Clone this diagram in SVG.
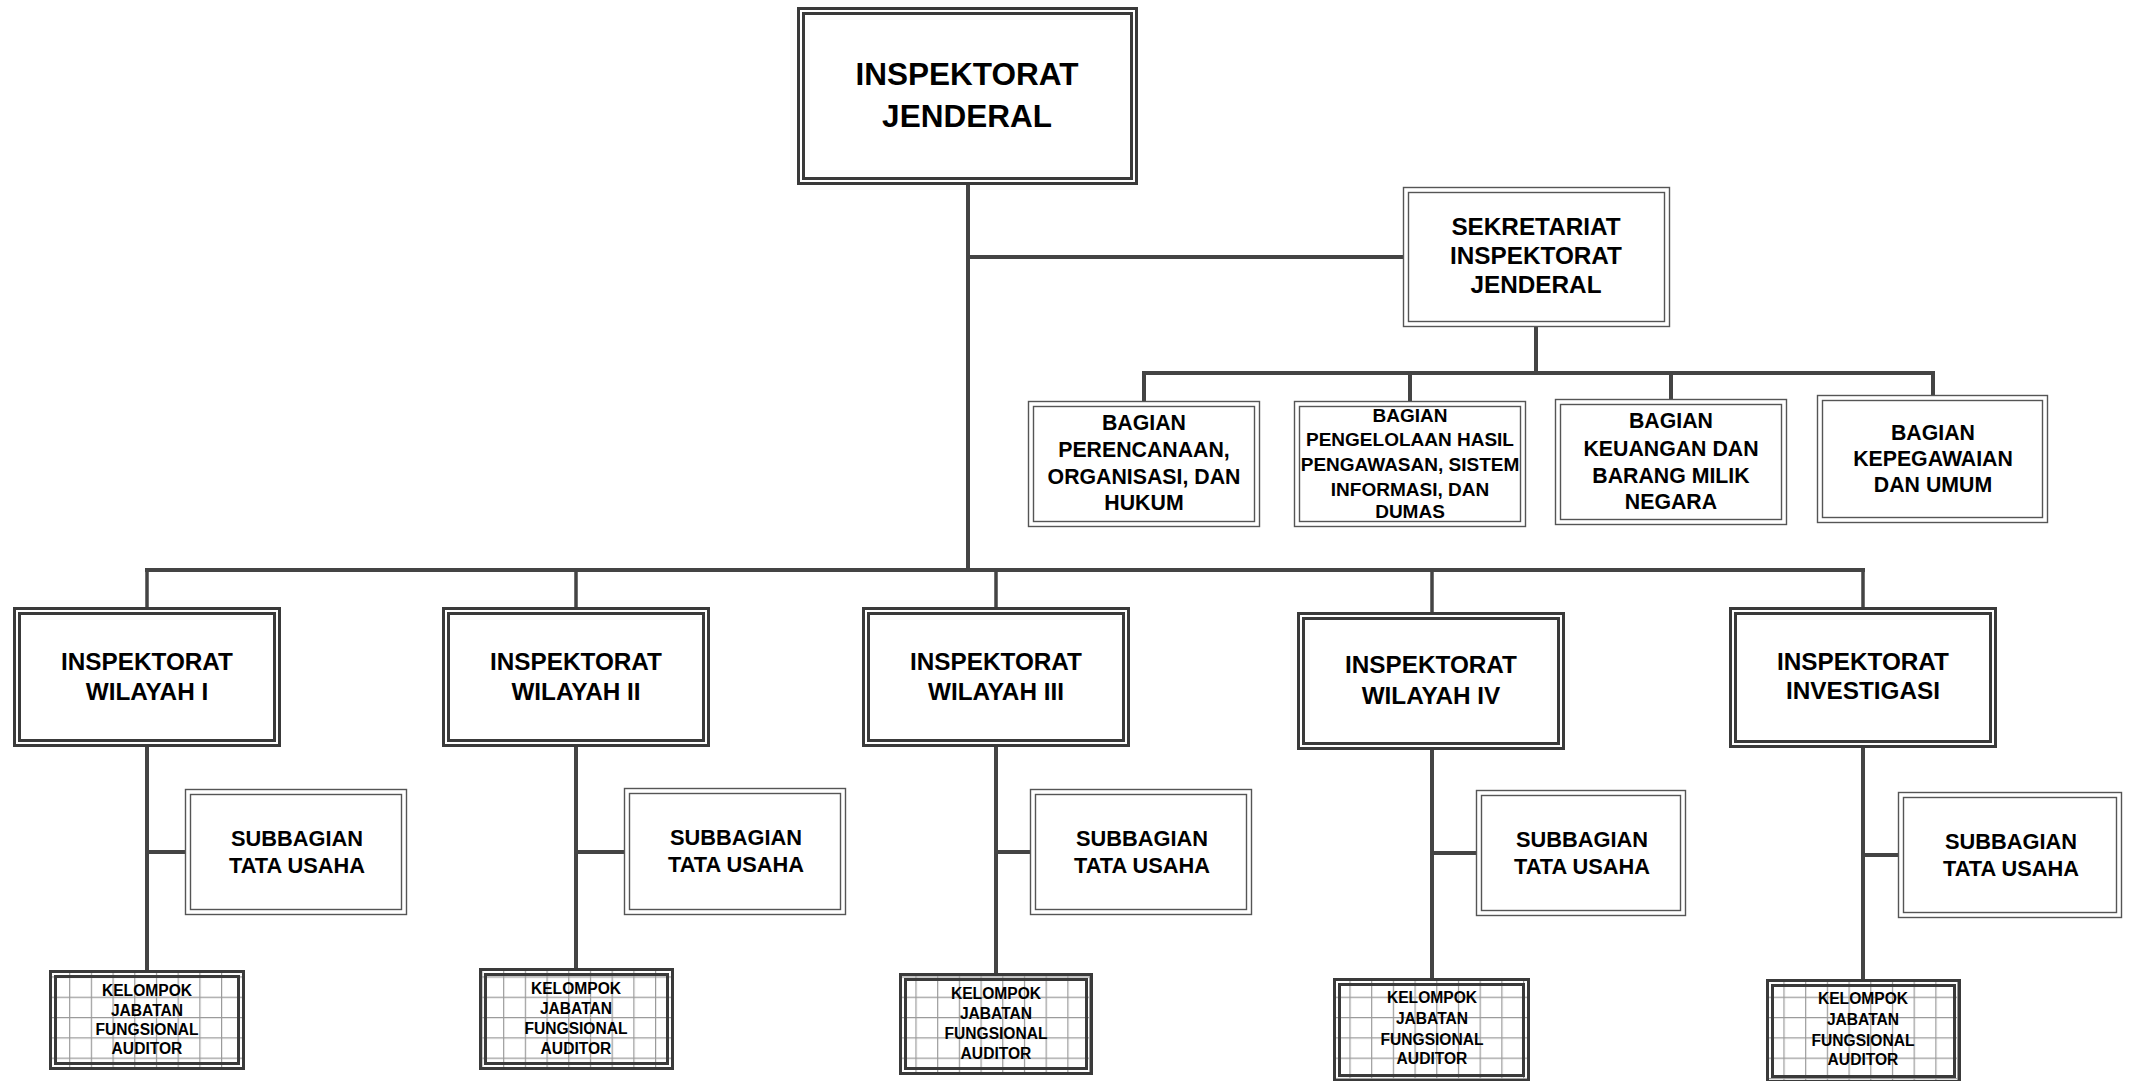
<svg xmlns="http://www.w3.org/2000/svg" width="2135" height="1081" viewBox="0 0 2135 1081">
<defs>
<style>
.bg{fill:#ffffff}
.thick{fill:none;stroke:#3a3a3a;stroke-width:3}
.thin{fill:none;stroke:#555555;stroke-width:1.4}
.conn{fill:none;stroke:#444444;stroke-width:4;stroke-linecap:butt}
.conn3{fill:none;stroke:#444444;stroke-width:3.5}
text{font-family:"Liberation Sans",Arial,sans-serif;font-weight:bold;fill:#000000;text-anchor:middle}
.t31{font-size:31.5px}
.t24{font-size:24.3px}
.t21{font-size:21.3px}
.t19{font-size:19px}
.t15{font-size:15.6px}
.s21{font-size:21.8px}
</style>
<pattern id="grid" patternUnits="userSpaceOnUse" width="21.7" height="20.3" x="4" y="2">
<rect width="21.7" height="20.3" fill="#ffffff"/>
<path d="M0 0 V20.3 M0 0 H21.7" stroke="#9a9a9a" stroke-width="2.4" fill="none"/>
</pattern>
</defs>
<rect class="bg" x="0" y="0" width="2135" height="1081"/>

<g id="connectors">
<path class="conn" d="M968 185 V570"/>
<path class="conn" d="M968 257 H1403"/>
<path class="conn" d="M1536 327 V373"/>
<path class="conn" d="M1142 373 H1935"/>
<path class="conn" d="M1144 373 V401 M1410 373 V401 M1671 373 V399 M1933 373 V395"/>
<path class="conn" d="M145 570 H1865"/>
<path class="conn3" d="M147 570 V607 M576 570 V607 M996 570 V607 M1432 570 V612 M1863 570 V607"/>
<path class="conn" d="M147 747 V970 M576 747 V968 M996 747 V973 M1432 750 V978 M1863 748 V979"/>
<path class="conn" d="M147 852 H185 M576 852 H624 M996 852 H1030 M1432 853 H1476 M1863 855 H1898"/>
</g>

<g id="inspektorat-jenderal">
<rect class="bg" x="797" y="7" width="341" height="178"/>
<rect class="thick" x="798.5" y="8.5" width="338" height="175"/>
<rect class="thick" x="803.5" y="13.5" width="328" height="165"/>
<text class="t31" x="967" y="85">INSPEKTORAT</text>
<text class="t31" x="967" y="127">JENDERAL</text>
</g>

<g id="sekretariat">
<rect class="bg" x="1403" y="187" width="267" height="140"/>
<rect class="thin" x="1403.5" y="187.5" width="266" height="139"/>
<rect class="thin" x="1408.5" y="192.5" width="256" height="129"/>
<text class="t24" x="1536" y="235">SEKRETARIAT</text>
<text class="t24" x="1536" y="264">INSPEKTORAT</text>
<text class="t24" x="1536" y="293">JENDERAL</text>
</g>

<g id="bagian-perencanaan">
<rect class="bg" x="1028" y="401" width="232" height="126"/>
<rect class="thin" x="1028.5" y="401.5" width="231" height="125"/>
<rect class="thin" x="1033.5" y="406.5" width="221" height="115"/>
<text class="t21" x="1144" y="430">BAGIAN</text>
<text class="t21" x="1144" y="457">PERENCANAAN,</text>
<text class="t21" x="1144" y="484">ORGANISASI, DAN</text>
<text class="t21" x="1144" y="510">HUKUM</text>
</g>

<g id="bagian-pengelolaan">
<rect class="bg" x="1294" y="401" width="232" height="126"/>
<rect class="thin" x="1294.5" y="401.5" width="231" height="125"/>
<rect class="thin" x="1299.5" y="406.5" width="221" height="115"/>
<text class="t19" x="1410" y="422">BAGIAN</text>
<text class="t19" x="1410" y="446">PENGELOLAAN HASIL</text>
<text class="t19" x="1410" y="471">PENGAWASAN, SISTEM</text>
<text class="t19" x="1410" y="496">INFORMASI, DAN</text>
<text class="t19" x="1410" y="518">DUMAS</text>
</g>

<g id="bagian-keuangan">
<rect class="bg" x="1555" y="399" width="232" height="126"/>
<rect class="thin" x="1555.5" y="399.5" width="231" height="125"/>
<rect class="thin" x="1560.5" y="404.5" width="221" height="115"/>
<text class="t21" x="1671" y="428">BAGIAN</text>
<text class="t21" x="1671" y="456">KEUANGAN DAN</text>
<text class="t21" x="1671" y="483">BARANG MILIK</text>
<text class="t21" x="1671" y="509">NEGARA</text>
</g>

<g id="bagian-kepegawaian">
<rect class="bg" x="1817" y="395" width="231" height="128"/>
<rect class="thin" x="1817.5" y="395.5" width="230" height="127"/>
<rect class="thin" x="1822.5" y="400.5" width="220" height="117"/>
<text class="t21" x="1933" y="440">BAGIAN</text>
<text class="t21" x="1933" y="466">KEPEGAWAIAN</text>
<text class="t21" x="1933" y="492">DAN UMUM</text>
</g>

<g id="wilayah-1">
<rect class="bg" x="13" y="607" width="268" height="140"/>
<rect class="thick" x="14.5" y="608.5" width="265" height="137"/>
<rect class="thick" x="19.5" y="613.5" width="255" height="127"/>
<text class="t24" x="147" y="670">INSPEKTORAT</text>
<text class="t24" x="147" y="700">WILAYAH I</text>
</g>

<g id="wilayah-2">
<rect class="bg" x="442" y="607" width="268" height="140"/>
<rect class="thick" x="443.5" y="608.5" width="265" height="137"/>
<rect class="thick" x="448.5" y="613.5" width="255" height="127"/>
<text class="t24" x="576" y="670">INSPEKTORAT</text>
<text class="t24" x="576" y="700">WILAYAH II</text>
</g>

<g id="wilayah-3">
<rect class="bg" x="862" y="607" width="268" height="140"/>
<rect class="thick" x="863.5" y="608.5" width="265" height="137"/>
<rect class="thick" x="868.5" y="613.5" width="255" height="127"/>
<text class="t24" x="996" y="670">INSPEKTORAT</text>
<text class="t24" x="996" y="700">WILAYAH III</text>
</g>

<g id="wilayah-4">
<rect class="bg" x="1297" y="612" width="268" height="138"/>
<rect class="thick" x="1298.5" y="613.5" width="265" height="135"/>
<rect class="thick" x="1303.5" y="618.5" width="255" height="125"/>
<text class="t24" x="1431" y="673">INSPEKTORAT</text>
<text class="t24" x="1431" y="704">WILAYAH IV</text>
</g>

<g id="investigasi">
<rect class="bg" x="1729" y="607" width="268" height="141"/>
<rect class="thick" x="1730.5" y="608.5" width="265" height="138"/>
<rect class="thick" x="1735.5" y="613.5" width="255" height="128"/>
<text class="t24" x="1863" y="670">INSPEKTORAT</text>
<text class="t24" x="1863" y="699">INVESTIGASI</text>
</g>

<g id="subbagian-1">
<rect class="bg" x="185" y="789" width="222" height="126"/>
<rect class="thin" x="185.5" y="789.5" width="221" height="125"/>
<rect class="thin" x="190.5" y="794.5" width="211" height="115"/>
<text class="s21" x="297" y="846">SUBBAGIAN</text>
<text class="s21" x="297" y="873">TATA USAHA</text>
</g>

<g id="subbagian-2">
<rect class="bg" x="624" y="788" width="222" height="127"/>
<rect class="thin" x="624.5" y="788.5" width="221" height="126"/>
<rect class="thin" x="629.5" y="793.5" width="211" height="116"/>
<text class="s21" x="736" y="845">SUBBAGIAN</text>
<text class="s21" x="736" y="872">TATA USAHA</text>
</g>

<g id="subbagian-3">
<rect class="bg" x="1030" y="789" width="222" height="126"/>
<rect class="thin" x="1030.5" y="789.5" width="221" height="125"/>
<rect class="thin" x="1035.5" y="794.5" width="211" height="115"/>
<text class="s21" x="1142" y="846">SUBBAGIAN</text>
<text class="s21" x="1142" y="873">TATA USAHA</text>
</g>

<g id="subbagian-4">
<rect class="bg" x="1476" y="790" width="210" height="126"/>
<rect class="thin" x="1476.5" y="790.5" width="209" height="125"/>
<rect class="thin" x="1481.5" y="795.5" width="199" height="115"/>
<text class="s21" x="1582" y="847">SUBBAGIAN</text>
<text class="s21" x="1582" y="874">TATA USAHA</text>
</g>

<g id="subbagian-5">
<rect class="bg" x="1898" y="792" width="224" height="126"/>
<rect class="thin" x="1898.5" y="792.5" width="223" height="125"/>
<rect class="thin" x="1903.5" y="797.5" width="213" height="115"/>
<text class="s21" x="2011" y="849">SUBBAGIAN</text>
<text class="s21" x="2011" y="876">TATA USAHA</text>
</g>

<g id="kelompok-1">
<rect fill="url(#grid)" x="49" y="970" width="196" height="100"/>
<rect class="thick" x="50.5" y="971.5" width="193" height="97"/>
<rect class="thick" x="55.5" y="976.5" width="183" height="87"/>
<text class="t15" x="147" y="996">KELOMPOK</text>
<text class="t15" x="147" y="1016">JABATAN</text>
<text class="t15" x="147" y="1035">FUNGSIONAL</text>
<text class="t15" x="147" y="1054">AUDITOR</text>
</g>

<g id="kelompok-2">
<rect fill="url(#grid)" x="479" y="968" width="195" height="102"/>
<rect class="thick" x="480.5" y="969.5" width="192" height="99"/>
<rect class="thick" x="485.5" y="974.5" width="182" height="89"/>
<text class="t15" x="576" y="994">KELOMPOK</text>
<text class="t15" x="576" y="1014">JABATAN</text>
<text class="t15" x="576" y="1034">FUNGSIONAL</text>
<text class="t15" x="576" y="1054">AUDITOR</text>
</g>

<g id="kelompok-3">
<rect fill="url(#grid)" x="899" y="973" width="194" height="102"/>
<rect class="thick" x="900.5" y="974.5" width="191" height="99"/>
<rect class="thick" x="905.5" y="979.5" width="181" height="89"/>
<text class="t15" x="996" y="999">KELOMPOK</text>
<text class="t15" x="996" y="1019">JABATAN</text>
<text class="t15" x="996" y="1039">FUNGSIONAL</text>
<text class="t15" x="996" y="1059">AUDITOR</text>
</g>

<g id="kelompok-4">
<rect fill="url(#grid)" x="1333" y="978" width="197" height="104"/>
<rect class="thick" x="1334.5" y="979.5" width="194" height="101"/>
<rect class="thick" x="1339.5" y="984.5" width="184" height="91"/>
<text class="t15" x="1432" y="1003">KELOMPOK</text>
<text class="t15" x="1432" y="1024">JABATAN</text>
<text class="t15" x="1432" y="1045">FUNGSIONAL</text>
<text class="t15" x="1432" y="1064">AUDITOR</text>
</g>

<g id="kelompok-5">
<rect fill="url(#grid)" x="1766" y="979" width="195" height="104"/>
<rect class="thick" x="1767.5" y="980.5" width="192" height="101"/>
<rect class="thick" x="1772.5" y="985.5" width="182" height="91"/>
<text class="t15" x="1863" y="1004">KELOMPOK</text>
<text class="t15" x="1863" y="1025">JABATAN</text>
<text class="t15" x="1863" y="1046">FUNGSIONAL</text>
<text class="t15" x="1863" y="1065">AUDITOR</text>
</g>
</svg>
